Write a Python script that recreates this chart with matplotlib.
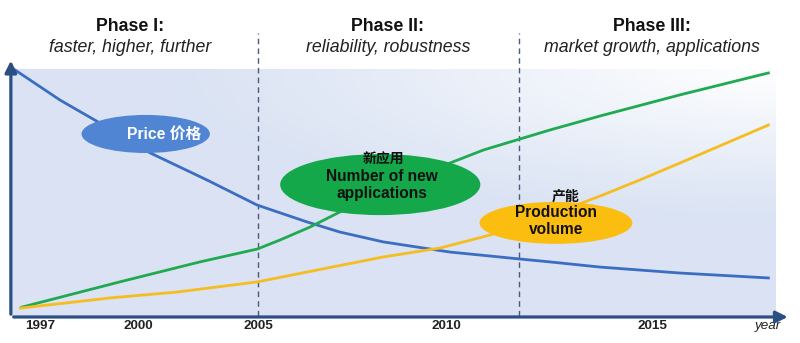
import numpy as np
import matplotlib
matplotlib.use("Agg")
import matplotlib.pyplot as plt
from matplotlib.patches import Ellipse

plt.rcParams['font.family'] = ['Liberation Sans', 'Noto Sans CJK SC', 'DejaVu Sans']

# schematic time axis (0-100), relative level (0-100)
price_x = [0.4, 6.3, 11.3, 18.1, 25.5, 32.1, 38.6, 42.9, 48.6, 57.3, 66.4, 70.4, 77.0, 87.4, 99.0]
price_y = [99.6, 87.4, 78.5, 66.0, 55.1, 44.9, 38.1, 34.0, 30.0, 25.9, 23.1, 21.9, 19.8, 17.4, 15.4]

apps_x = [1.3, 14.1, 24.6, 32.1, 35.1, 39.0, 42.9, 57.3, 61.7, 66.1, 70.4, 77.0, 87.4, 99.0]
apps_y = [3.6, 13.8, 21.9, 27.1, 30.8, 36.0, 42.1, 61.9, 67.2, 71.3, 75.3, 81.0, 89.5, 98.4]

volume_x = [1.1, 12.8, 21.6, 32.1, 39.9, 48.6, 56.0, 62.6, 69.8, 77.0, 82.2, 87.4, 99.0]
volume_y = [3.2, 7.3, 9.7, 13.8, 18.6, 23.9, 27.5, 32.8, 40.1, 48.6, 55.1, 61.9, 77.3]

tick_pos = [3.7, 16.5, 32.2, 56.9, 83.8, 99.0]
tick_labels = ["1997", "2000", "2005", "2010", "2015", "year"]

phase_bounds = [32.2, 66.4]
phase_centers = [15.4, 49.2, 83.8]
phase_titles = ["Phase I:", "Phase II:", "Phase III:"]
phase_subtitles = ["faster, higher, further", "reliability, robustness", "market growth, applications"]

fig = plt.figure(figsize=(8, 3.43), dpi=100)
ax = fig.add_axes([12 / 800, 27 / 343, 764 / 800, 247 / 343])
ax.set_xlim(0, 100)
ax.set_ylim(0, 100)

# background gradient: light blue fading to white toward upper right
gx, gy = np.meshgrid(np.linspace(0, 1, 300), np.linspace(0, 1, 150))
d = np.sqrt((1 - gx) ** 2 + ((1 - gy) * 1.3) ** 2)
w = np.clip(1 - d / 0.8, 0, 1) ** 1.1
base = np.array([0.855, 0.89, 0.955])
img = base[None, None, :] * (1 - w[..., None]) + w[..., None]
ax.imshow(img, extent=[0, 100, 0, 100], origin='lower', aspect='auto', zorder=0)

for s in ax.spines.values():
    s.set_visible(False)

# phase separators
for b in phase_bounds:
    ax.plot([b, b], [0, 114.6], ls=(0, (4, 3)), color='#4a5a78', lw=1.0, clip_on=False, zorder=1)

ax.plot(price_x, price_y, color='#3b6ec2', lw=2.0, zorder=2, clip_on=False)
ax.plot(apps_x, apps_y, color='#1faa4f', lw=2.0, zorder=2)
ax.plot(volume_x, volume_y, color='#f5bd1f', lw=2.0, zorder=2)

# axes arrows
axis_c = '#2b4f82'
ax.annotate('', xy=(-0.15, 104.5), xytext=(-0.15, -0.4), xycoords='data',
            arrowprops=dict(arrowstyle='-|>,head_width=0.35,head_length=0.7', color=axis_c, lw=2.3),
            annotation_clip=False, zorder=5)
ax.annotate('', xy=(101.9, -0.4), xytext=(-0.15, -0.4), xycoords='data',
            arrowprops=dict(arrowstyle='-|>,head_width=0.35,head_length=0.7', color=axis_c, lw=2.3),
            annotation_clip=False, zorder=5)

ax.set_yticks([])
ax.set_xticks(tick_pos)
ax.set_xticklabels(tick_labels, fontsize=9.7, fontweight='bold', color='#222222')
ax.tick_params(axis='x', length=0, pad=3)
lbl = ax.get_xticklabels()[-1]
lbl.set_fontweight('normal')
lbl.set_fontstyle('italic')

# phase headers
for cx, t, st in zip(phase_centers, phase_titles, phase_subtitles):
    ax.text(cx, 117.4, t, ha='center', va='center', fontsize=12.8, fontweight='bold',
            color='#111111', clip_on=False)
    ax.text(cx, 108.6, st, ha='center', va='center', fontsize=12.8, fontstyle='italic',
            color='#222222', clip_on=False)

# labelled ellipses
ax.add_patch(Ellipse((17.5, 73.7), 16.8, 15.4, color='#4f85d3', zorder=3, lw=0))
ax.text(19.9, 73.7, "Price 价格", ha='center', va='center', fontsize=11.3, fontweight='bold',
        color='white', zorder=4)

ax.add_patch(Ellipse((48.2, 53.2), 26.2, 24.7, color='#14a84b', zorder=3, lw=0))
ax.text(48.6, 63.2, "新应用", ha='center', va='center', fontsize=10, fontweight='bold',
        color='#111111', zorder=4)
ax.text(48.4, 53.0, "Number of new\napplications", ha='center', va='center', fontsize=11.2,
        fontweight='bold', color='#111111', zorder=4, linespacing=1.15)

ax.add_patch(Ellipse((71.2, 37.7), 20.0, 17.0, color='#fbbd10', zorder=3, lw=0))
ax.text(72.4, 48.2, "产能", ha='center', va='center', fontsize=10, fontweight='bold',
        color='#111111', zorder=4)
ax.text(71.2, 38.3, "Production\nvolume", ha='center', va='center', fontsize=11.2,
        fontweight='bold', color='#111111', zorder=4, linespacing=1.15)

fig.savefig("out.png", dpi=100)
